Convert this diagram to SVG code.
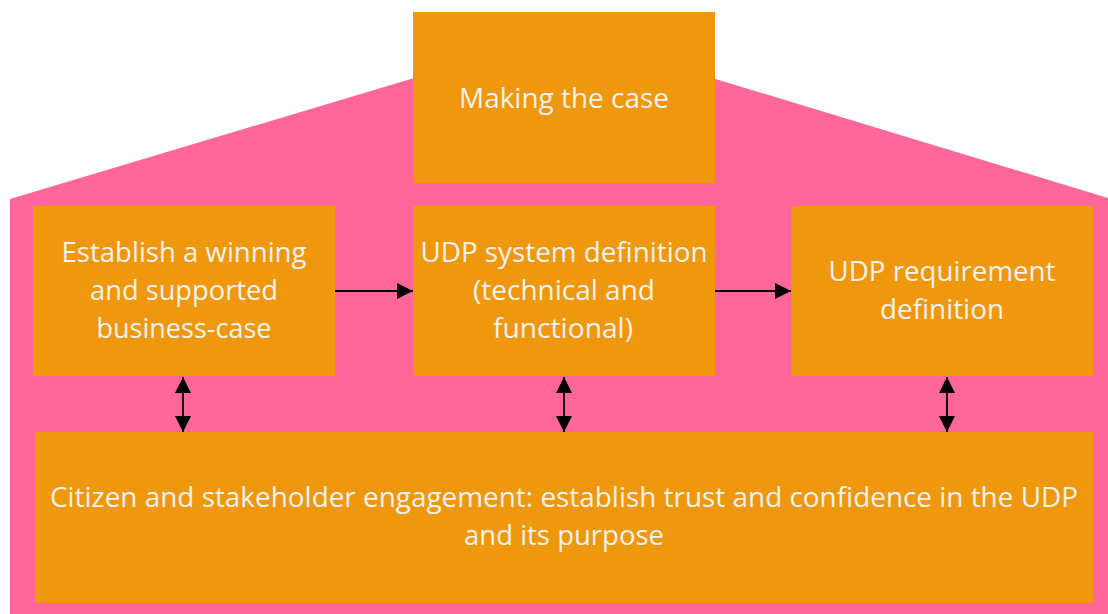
<svg xmlns="http://www.w3.org/2000/svg" width="1108" height="614" viewBox="0 0 1108 614">
<style>
.box{fill:#F0980D}
.t{font-family:"Open Sans","Noto Sans",sans-serif;font-size:26.5px;fill:#F3F2EE;text-anchor:middle}
.c{stroke:#000;stroke-width:1.8;fill:none}
</style>
<defs>
<marker id="ah" viewBox="0 0 16 16" refX="16" refY="8" markerWidth="16" markerHeight="16" markerUnits="userSpaceOnUse" orient="auto-start-reverse">
<path d="M0,0 L16,8 L0,16 Z" fill="#000"/>
</marker>
</defs>
<rect width="1108" height="614" fill="#FFFFFF"/>
<polygon id="house" points="10,199 564,33 1108,198 1108,614 10,614" fill="#FF6699"/>
<g id="making-the-case">
<rect class="box" x="413" y="12" width="302" height="171"/>
<text class="t" x="564" y="108" textLength="210" lengthAdjust="spacingAndGlyphs">Making the case</text>
</g>
<g id="business-case">
<rect class="box" x="33" y="206" width="302" height="170"/>
<text class="t" x="184" y="262" textLength="245" lengthAdjust="spacingAndGlyphs">Establish a winning</text>
<text class="t" x="184" y="300" textLength="188" lengthAdjust="spacingAndGlyphs">and supported</text>
<text class="t" x="184" y="338" textLength="175" lengthAdjust="spacingAndGlyphs">business-case</text>
</g>
<g id="system-definition">
<rect class="box" x="413" y="206" width="302" height="170"/>
<text class="t" x="564" y="262" textLength="287" lengthAdjust="spacingAndGlyphs">UDP system definition</text>
<text class="t" x="564" y="300" textLength="182" lengthAdjust="spacingAndGlyphs">(technical and</text>
<text class="t" x="563" y="338" textLength="140" lengthAdjust="spacingAndGlyphs">functional)</text>
</g>
<g id="requirement-definition">
<rect class="box" x="791" y="206" width="302" height="170"/>
<text class="t" x="942" y="281" textLength="227" lengthAdjust="spacingAndGlyphs">UDP requirement</text>
<text class="t" x="942" y="319" textLength="124" lengthAdjust="spacingAndGlyphs">definition</text>
</g>
<g id="engagement">
<rect class="box" x="35" y="432" width="1058" height="171"/>
<text class="t" x="564" y="507" textLength="1028" lengthAdjust="spacingAndGlyphs">Citizen and stakeholder engagement: establish trust and confidence in the UDP</text>
<text class="t" x="564" y="545" textLength="200" lengthAdjust="spacingAndGlyphs">and its purpose</text>
</g>
<g id="connectors">
<line class="c" x1="335" y1="291" x2="413" y2="291" marker-end="url(#ah)"/>
<line class="c" x1="715" y1="291" x2="791" y2="291" marker-end="url(#ah)"/>
<line class="c" x1="183" y1="377" x2="183" y2="432" marker-start="url(#ah)" marker-end="url(#ah)"/>
<line class="c" x1="564" y1="377" x2="564" y2="432" marker-start="url(#ah)" marker-end="url(#ah)"/>
<line class="c" x1="947" y1="377" x2="947" y2="432" marker-start="url(#ah)" marker-end="url(#ah)"/>
</g>
</svg>
